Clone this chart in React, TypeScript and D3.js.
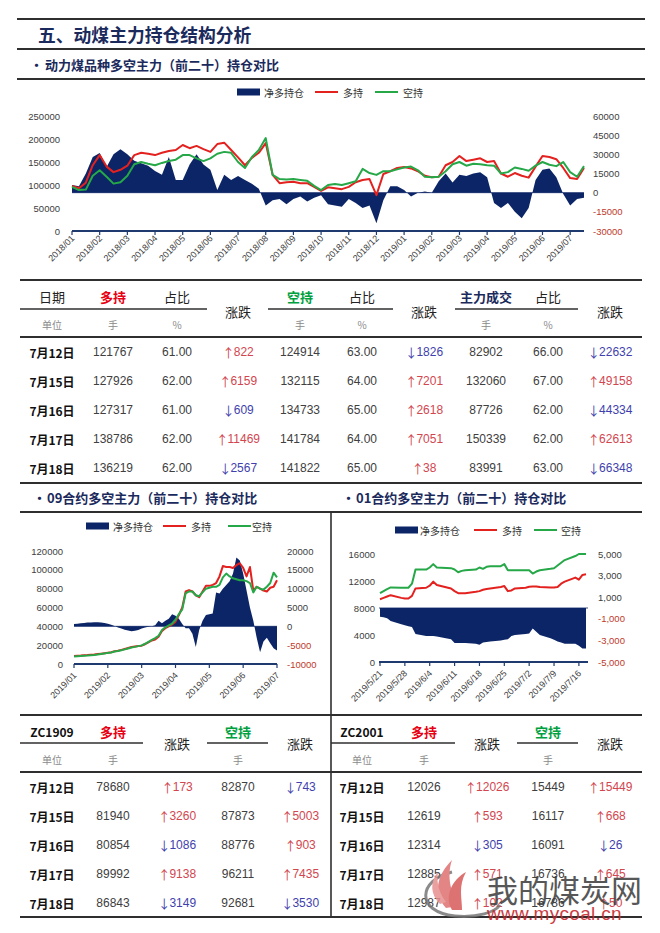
import React from 'react';
import * as d3 from 'd3';

const NAVY = '#0b2566';
const AXIS_NAVY = '#1f3a6e';
const RED_LINE = '#e3211f';
const GREEN_LINE = '#26a848';
const TXT = '#404040';
const NEG_TXT = '#c0392b';
const UP = '#d2464f';
const DOWN = '#3f3fae';
const HEAD_NAVY = '#1b2a5c';
const RULE = '#2f2f2f';
const SANS = '"Liberation Sans", "Noto Sans CJK SC", sans-serif';
const CJK = '"Noto Sans CJK SC", "Liberation Sans", sans-serif';

// ================= Top chart data =================
const topMonths = ['2018/01','2018/02','2018/03','2018/04','2018/05','2018/06','2018/07','2018/08','2018/09','2018/10','2018/11','2018/12','2019/01','2019/02','2019/03','2019/04','2019/05','2019/06','2019/07'];
const topLong = [98000,93000,105000,143000,165000,140000,128000,133000,142000,165000,
  170000,168000,165000,170000,174000,176000,187000,180000,185000,178000,
  172000,189000,192000,176000,160000,143000,159000,170000,191000,122000,
  104000,106000,107000,104000,104000,96000,87000,95000,93000,91000,
  96000,106000,111000,113000,78000,124000,130000,137000,139000,136000,
  130000,120000,117000,118000,143000,150000,163000,152000,155000,158000,
  150000,152000,125000,118000,126000,120000,116000,140000,163000,161000,
  156000,137000,115000,113000,137000];
const topShort = [96000,89000,90000,120000,132000,118000,103000,106000,120000,145000,
  150000,146000,143000,148000,152000,155000,165000,165000,158000,152000,
  158000,168000,172000,170000,150000,137000,161000,176000,202000,122000,
  113000,112000,113000,111000,109000,98000,89000,100000,102000,100000,
  104000,108000,135000,126000,122000,130000,130000,134000,138000,140000,
  132000,118000,117000,118000,130000,145000,150000,142000,146000,145000,
  143000,142000,125000,128000,138000,135000,131000,142000,150000,144000,
  141000,150000,128000,118000,141000];
const topNet = [6000,5000,15000,28000,31000,20000,30000,34000,30000,25000,
  23000,21000,17000,14000,28000,10000,10000,22000,30000,22000,
  18000,2000,14000,10000,13000,10000,7000,3000,-10000,-6000,
  -5000,-9000,-5000,-3000,-7000,-4000,-2000,-9000,-10000,-11000,
  -5000,-8000,-12000,-10000,-24000,-6000,5000,5000,2000,-3000,
  0,1000,0,9000,15000,8000,14000,13000,15000,16000,
  12000,-8000,-12000,-8000,-15000,-20000,-12000,10000,18000,19000,
  12000,-1000,-10000,-5000,-4000];
const topLeftTicks = [0,50000,100000,150000,200000,250000];
const topRightTicks = [-30000,-15000,0,15000,30000,45000,60000];

// ================= 09 contract chart data =================
const c09Months = ['2019/01','2019/02','2019/03','2019/04','2019/05','2019/06','2019/07'];
const c09Long = [8500,8800,9000,9300,9500,9800,10000,10500,11000,11500,
  12000,12500,13500,14000,15000,16000,17000,18000,18500,19000,
  19500,21000,23000,25000,26000,29000,35000,38000,40000,42000,
  45000,52000,60000,77000,78500,77000,73000,71000,77000,83000,
  83000,84000,86000,93000,104000,103000,103000,102000,105000,107000,
  102000,93000,103000,78000,82000,80000,78000,77000,81000,82000,
  89000];
const c09Short = [8000,8300,8600,8800,9000,9300,9600,10000,10600,11200,
  11800,12300,13200,13800,14600,15500,16500,17500,18200,19000,
  19800,21500,23500,25500,27500,30000,36000,39000,41000,43000,
  47000,53000,58000,75000,77000,77000,73000,72000,76000,80000,
  81000,82000,82000,84000,92000,96000,93000,91000,90000,89000,
  89000,88000,86000,76000,82000,80000,79000,82000,86000,97000,
  92000];
const c09Net = [600,700,800,900,1000,1000,1100,1100,1000,900,
  700,400,100,-300,-600,-900,-1100,-1300,-1200,-1000,
  -600,-300,-100,0,300,1500,800,1500,2000,3200,
  2800,2000,600,-500,-500,-2000,-5500,-1000,1500,3000,
  3200,3400,9000,8700,10000,11000,12000,14000,18300,17500,
  14000,9500,5000,1500,-3000,-6900,-4000,-3000,-4500,-5800,
  -6400];
const c09LeftTicks = [0,20000,40000,60000,80000,100000,120000];
const c09RightTicks = [-10000,-5000,0,5000,10000,15000,20000];

// ================= 01 contract chart data =================
const c01Dates = ['2019-05-21','2019-05-22','2019-05-23','2019-05-24','2019-05-27','2019-05-28','2019-05-29','2019-05-30','2019-05-31',
  '2019-06-03','2019-06-04','2019-06-05','2019-06-06','2019-06-10','2019-06-11','2019-06-12','2019-06-13','2019-06-14','2019-06-17','2019-06-18','2019-06-19','2019-06-20','2019-06-21','2019-06-24','2019-06-25','2019-06-26','2019-06-27','2019-06-28',
  '2019-07-01','2019-07-02','2019-07-03','2019-07-04','2019-07-05','2019-07-08','2019-07-09','2019-07-10','2019-07-11','2019-07-12','2019-07-15','2019-07-16','2019-07-17','2019-07-18'];
const c01Long = [9300,9500,9700,9900,9500,9400,9400,9800,10900,
  11000,11300,11900,11400,10900,10500,10200,10200,10200,10400,10500,10700,10800,10900,11100,11250,10500,10600,10900,
  11000,11150,11200,11200,11100,11050,11050,11100,11600,11900,12500,12200,12900,13000];
const c01Short = [10200,10500,10800,11050,11000,11000,11000,11600,13700,
  13700,14000,14500,14000,13900,13700,13300,13500,13600,13700,14000,13800,14100,14200,14200,14500,13600,13600,13600,
  13600,13600,13100,13400,13600,13800,13900,14300,14700,15100,15700,16000,16000,16000];
const c01Net = [-800,-850,-950,-1200,-1500,-1600,-1700,-1750,-2400,
  -2600,-2600,-2600,-2650,-2900,-3250,-3250,-3250,-3250,-3300,-3400,-3200,-3150,-3100,-3000,-2950,-2900,-2600,-2500,
  -2400,-2350,-1900,-2200,-2500,-2800,-2950,-3100,-3200,-3300,-3300,-3500,-3750,-3750];
const c01TickDates = ['2019-05-21','2019-05-28','2019-06-04','2019-06-11','2019-06-18','2019-06-25','2019-07-02','2019-07-09','2019-07-16'];
const c01LeftTicks = [0,4000,8000,12000,16000];
const c01RightTicks = [-5000,-3000,-1000,1000,3000,5000];

// ================= Tables =================
const tDates = ['7月12日','7月15日','7月16日','7月17日','7月18日'];
const t1Long = [121767,127926,127317,138786,136219];
const t1LongPct = ['61.00','62.00','61.00','62.00','62.00'];
const t1LongChg = [822,6159,-609,11469,-2567];
const t1Short = [124914,132115,134733,141784,141822];
const t1ShortPct = ['63.00','64.00','65.00','64.00','65.00'];
const t1ShortChg = [-1826,7201,2618,7051,38];
const t1Vol = [82902,132060,87726,150339,83991];
const t1VolPct = ['66.00','67.00','62.00','62.00','63.00'];
const t1VolChg = [-22632,49158,-44334,62613,-66348];

const t09Long = [78680,81940,80854,89992,86843];
const t09LongChg = [173,3260,-1086,9138,-3149];
const t09Short = [82870,87873,88776,96211,92681];
const t09ShortChg = [-743,5003,903,7435,-3530];

const t01Long = [12026,12619,12314,12885,12987];
const t01LongChg = [12026,593,-305,571,102];
const t01Short = [15449,16117,16091,16736,16786];
const t01ShortChg = [15449,668,-26,645,50];

// ================= Components =================
type Tick = { x: number; label: string };

function Legend({ y, boxX, netX, r1, longX, g1, shortX }: any) {
  const fs = 10;
  return (
    <g fontFamily={CJK} fontSize={fs} fill="#333">
      <rect x={boxX} y={y - 3.5} width={23} height={7} fill={NAVY} />
      <text x={netX} y={y} dominantBaseline="central">净多持仓</text>
      <line x1={r1} x2={r1 + 23} y1={y} y2={y} stroke={RED_LINE} strokeWidth={2} />
      <text x={longX} y={y} dominantBaseline="central">多持</text>
      <line x1={g1} x2={g1 + 23} y1={y} y2={y} stroke={GREEN_LINE} strokeWidth={2} />
      <text x={shortX} y={y} dominantBaseline="central">空持</text>
    </g>
  );
}

function Chart(props: any) {
  const { xs, long, short, net, yL, yR, leftTicks, rightTicks, leftX, rightX, rFmt, xTicks, axisY, x0, x1, labDy } = props;
  const area = d3.area<number>().x((_, i) => xs[i]).y0(yR(0)).y1((d) => yR(d))(net) as string;
  const lineGen = d3.line<number>().x((_, i) => xs[i]).y((d) => yL(d));
  return (
    <g>
      <path d={area} fill={NAVY} />
      <line x1={x0} x2={x1} y1={yR(0)} y2={yR(0)} stroke={NAVY} strokeWidth={0.8} />
      <path d={lineGen(long) as string} fill="none" stroke={RED_LINE} strokeWidth={2} strokeLinejoin="round" />
      <path d={lineGen(short) as string} fill="none" stroke={GREEN_LINE} strokeWidth={2} strokeLinejoin="round" />
      <line x1={x0} x2={x1} y1={axisY} y2={axisY} stroke={AXIS_NAVY} strokeWidth={2} />
      {(xTicks as Tick[]).map((t, i) => (
        <line key={'tk' + i} x1={t.x} x2={t.x} y1={axisY} y2={axisY + 4} stroke={AXIS_NAVY} strokeWidth={1.2} />
      ))}
      {(leftTicks as number[]).map((v) => (
        <text key={'l' + v} x={leftX} y={yL(v)} textAnchor="end" dominantBaseline="central" fontSize={9.5} fill={TXT} fontFamily={SANS}>{v}</text>
      ))}
      {(rightTicks as number[]).map((v) => (
        <text key={'r' + v} x={rightX} y={yR(v)} dominantBaseline="central" fontSize={9.5} fill={v < 0 ? NEG_TXT : TXT} fontFamily={SANS}>{rFmt(v)}</text>
      ))}
      {(xTicks as Tick[]).map((t, i) => (
        <text key={'xl' + i} transform={`translate(${t.x + 3},${axisY + labDy}) rotate(-45)`} textAnchor="end" fontSize={9} fill={TXT} fontFamily={SANS}>{t.label}</text>
      ))}
    </g>
  );
}

function Chg({ x, y, v }: { x: number; y: number; v: number }) {
  const up = v >= 0;
  return (
    <text x={x} y={y} textAnchor="middle" dominantBaseline="central" fontSize={12} fill={up ? UP : DOWN} fontFamily={SANS}>
      <tspan fontFamily={CJK} fontSize={12.5}>{up ? '↑' : '↓'}</tspan>
      <tspan dx={-1}>{Math.abs(v)}</tspan>
    </text>
  );
}

function Val({ x, y, t }: { x: number; y: number; t: string | number }) {
  return <text x={x} y={y} textAnchor="middle" dominantBaseline="central" fontSize={12} fill={TXT} fontFamily={SANS}>{t}</text>;
}

function DateCell({ x, y, t }: { x: number; y: number; t: string }) {
  return <text x={x} y={y} textAnchor="middle" dominantBaseline="central" fontSize={12} fontWeight="bold" fill="#111" fontFamily={CJK}>{t}</text>;
}

function Head({ x, y, t, color = '#222', bold = false, size = 13 }: any) {
  return <text x={x} y={y} textAnchor="middle" dominantBaseline="central" fontSize={size} fontWeight={bold ? 'bold' : 'normal'} fill={color} fontFamily={CJK}>{t}</text>;
}

function Sub({ x, y, t }: any) {
  return <text x={x} y={y} textAnchor="middle" dominantBaseline="central" fontSize={10} fill="#8a8a8a" fontFamily={CJK}>{t}</text>;
}

function Rule({ x1, x2, y, w = 1.8, c = RULE }: any) {
  return <line x1={x1} x2={x2} y1={y} y2={y} stroke={c} strokeWidth={w} />;
}

export default function App() {
  // ---- top chart scales
  const topX = d3.scaleLinear().domain([0, topLong.length - 1]).range([72, 584]);
  const topYL = d3.scaleLinear().domain([0, 250000]).range([231, 116]);
  const topYR = d3.scaleLinear().domain([-30000, 60000]).range([231, 116]);
  const topXs = topLong.map((_, i) => topX(i));
  const topTicks: Tick[] = topMonths.map((m, k) => ({ x: topX(k * 4), label: m }));

  // ---- 09 chart scales
  const x09 = d3.scaleLinear().domain([0, c09Long.length - 1]).range([74, 277]);
  const y09L = d3.scaleLinear().domain([0, 120000]).range([664, 551]);
  const y09R = d3.scaleLinear().domain([-10000, 20000]).range([664, 551]);
  const xs09 = c09Long.map((_, i) => x09(i));
  const ticks09: Tick[] = c09Months.map((m, k) => ({ x: x09(k * 10), label: m }));

  // ---- 01 chart scales
  const parse = d3.timeParse('%Y-%m-%d');
  const d01 = c01Dates.map((s) => parse(s) as Date);
  const x01 = d3.scaleTime().domain([d01[0], d01[d01.length - 1]]).range([380, 586]);
  const y01L = d3.scaleLinear().domain([0, 16000]).range([662, 554]);
  const y01R = d3.scaleLinear().domain([-5000, 5000]).range([662, 554]);
  const xs01 = d01.map((d) => x01(d));
  const fmt01 = d3.timeFormat('%Y/%-m/%-d');
  const ticks01: Tick[] = c01TickDates.map((s) => {
    const d = parse(s) as Date;
    return { x: x01(d), label: fmt01(d) };
  });

  const t1Cols = [52, 113, 177, 238, 300, 362, 424, 486, 548, 610];
  const rowsY1 = [352, 381, 410, 439, 468];
  const lc = [52, 113, 177, 238, 300];
  const rc = [362, 424, 487, 548, 610];
  const rowsY2 = [787, 816, 845, 874, 903];

  return (
    <svg width={660} height={933} style={{ position: 'absolute', left: 0, top: 0, background: '#fff' }}>
      <rect width={660} height={933} fill="#fff" />

      {/* Header */}
      <Rule x1={17} x2={645} y={19} w={2} />
      <text x={38} y={34} dominantBaseline="central" fontSize={17.8} fontWeight="bold" fill={HEAD_NAVY} fontFamily={CJK}>五、动煤主力持仓结构分析</text>
      <Rule x1={17} x2={645} y={49} w={2} />
      <text x={30} y={64} dominantBaseline="central" fontSize={13} fontWeight="bold" fill={HEAD_NAVY} fontFamily={CJK}>•</text>
      <text x={45} y={64} dominantBaseline="central" fontSize={13} fontWeight="bold" fill={HEAD_NAVY} fontFamily={CJK}>动力煤品种多空主力（前二十）持仓对比</text>
      <Rule x1={17} x2={645} y={79} w={2} />

      {/* Top chart */}
      <Legend y={92} boxX={237} netX={264} r1={315} longX={343} g1={375} shortX={403} />
      <Chart xs={topXs} long={topLong} short={topShort} net={topNet} yL={topYL} yR={topYR}
        leftTicks={topLeftTicks} rightTicks={topRightTicks} leftX={60} rightX={593}
        rFmt={(v: number) => String(v)} xTicks={topTicks} axisY={231} x0={72} x1={584} labDy={8} />

      {/* Table 1 */}
      <Rule x1={20} x2={642} y={280} w={2} />
      <Head x={t1Cols[0]} y={296} t="日期" />
      <Head x={t1Cols[1]} y={296} t="多持" color="#e60012" bold />
      <Head x={t1Cols[2]} y={296} t="占比" />
      <Head x={t1Cols[3]} y={311} t="涨跌" />
      <Head x={t1Cols[4]} y={296} t="空持" color="#00a040" bold />
      <Head x={t1Cols[5]} y={296} t="占比" />
      <Head x={t1Cols[6]} y={311} t="涨跌" />
      <Head x={t1Cols[7]} y={296} t="主力成交" color={HEAD_NAVY} bold />
      <Head x={t1Cols[8]} y={296} t="占比" />
      <Head x={t1Cols[9]} y={311} t="涨跌" />
      <Rule x1={20} x2={207} y={309} w={1.6} />
      <Rule x1={268} x2={393} y={309} w={1.6} />
      <Rule x1={455} x2={578} y={309} w={1.6} />
      <Sub x={t1Cols[0]} y={324} t="单位" />
      <Sub x={t1Cols[1]} y={324} t="手" />
      <Sub x={t1Cols[2]} y={324} t="%" />
      <Sub x={t1Cols[4]} y={324} t="手" />
      <Sub x={t1Cols[5]} y={324} t="%" />
      <Sub x={t1Cols[7]} y={324} t="手" />
      <Sub x={t1Cols[8]} y={324} t="%" />
      <Rule x1={20} x2={642} y={337} w={2} />
      {tDates.map((d, r) => (
        <g key={'t1' + r}>
          <DateCell x={t1Cols[0]} y={rowsY1[r]} t={d} />
          <Val x={t1Cols[1]} y={rowsY1[r]} t={t1Long[r]} />
          <Val x={t1Cols[2]} y={rowsY1[r]} t={t1LongPct[r]} />
          <Chg x={t1Cols[3]} y={rowsY1[r]} v={t1LongChg[r]} />
          <Val x={t1Cols[4]} y={rowsY1[r]} t={t1Short[r]} />
          <Val x={t1Cols[5]} y={rowsY1[r]} t={t1ShortPct[r]} />
          <Chg x={t1Cols[6]} y={rowsY1[r]} v={t1ShortChg[r]} />
          <Val x={t1Cols[7]} y={rowsY1[r]} t={t1Vol[r]} />
          <Val x={t1Cols[8]} y={rowsY1[r]} t={t1VolPct[r]} />
          <Chg x={t1Cols[9]} y={rowsY1[r]} v={t1VolChg[r]} />
        </g>
      ))}

      {/* Bottom section headers */}
      <Rule x1={20} x2={642} y={483} w={2} />
      <text x={33} y={497} dominantBaseline="central" fontSize={13} fontWeight="bold" fill={HEAD_NAVY} fontFamily={CJK}>•</text>
      <text x={47} y={497} dominantBaseline="central" fontSize={13} fontWeight="bold" fill={HEAD_NAVY} fontFamily={CJK}>09合约多空主力（前二十）持仓对比</text>
      <text x={342} y={497} dominantBaseline="central" fontSize={13} fontWeight="bold" fill={HEAD_NAVY} fontFamily={CJK}>•</text>
      <text x={356} y={497} dominantBaseline="central" fontSize={13} fontWeight="bold" fill={HEAD_NAVY} fontFamily={CJK}>01合约多空主力（前二十）持仓对比</text>
      <Rule x1={20} x2={642} y={512} w={2} />
      <line x1={331} x2={331} y1={512} y2={917} stroke={RULE} strokeWidth={1.6} />

      {/* 09 chart */}
      <Legend y={526} boxX={86} netX={113} r1={163} longX={191} g1={228} shortX={252} />
      <Chart xs={xs09} long={c09Long} short={c09Short} net={c09Net} yL={y09L} yR={y09R}
        leftTicks={c09LeftTicks} rightTicks={c09RightTicks} leftX={63} rightX={287}
        rFmt={(v: number) => String(v)} xTicks={ticks09} axisY={664} x0={74} x1={277} labDy={12} />

      {/* 01 chart */}
      <Legend y={530} boxX={395} netX={420} r1={474} longX={502} g1={534} shortX={561} />
      <Chart xs={xs01} long={c01Long} short={c01Short} net={c01Net} yL={y01L} yR={y01R}
        leftTicks={c01LeftTicks} rightTicks={c01RightTicks} leftX={375} rightX={598}
        rFmt={(v: number) => v.toLocaleString('en-US')} xTicks={ticks01} axisY={662} x0={379} x1={588} labDy={12} />

      {/* Bottom tables */}
      <Rule x1={20} x2={642} y={715} w={2} />
      <Head x={lc[0]} y={731} t="ZC1909" bold size={12} color="#111" />
      <Head x={lc[1]} y={731} t="多持" color="#e60012" bold />
      <Head x={lc[2]} y={743} t="涨跌" />
      <Head x={lc[3]} y={731} t="空持" color="#00a040" bold />
      <Head x={lc[4]} y={743} t="涨跌" />
      <Head x={rc[0]} y={731} t="ZC2001" bold size={12} color="#111" />
      <Head x={rc[1]} y={731} t="多持" color="#e60012" bold />
      <Head x={rc[2]} y={743} t="涨跌" />
      <Head x={rc[3]} y={731} t="空持" color="#00a040" bold />
      <Head x={rc[4]} y={743} t="涨跌" />
      <Rule x1={20} x2={143} y={743} w={1.6} />
      <Rule x1={207} x2={268} y={743} w={1.6} />
      <Rule x1={331} x2={455} y={743} w={1.6} />
      <Rule x1={517} x2={578} y={743} w={1.6} />
      <Sub x={lc[0]} y={759} t="单位" />
      <Sub x={lc[1]} y={759} t="手" />
      <Sub x={lc[3]} y={759} t="手" />
      <Sub x={rc[0]} y={759} t="单位" />
      <Sub x={rc[1]} y={759} t="手" />
      <Sub x={rc[3]} y={759} t="手" />
      <Rule x1={20} x2={642} y={772} w={2} />
      {tDates.map((d, r) => (
        <g key={'t2' + r}>
          <DateCell x={lc[0]} y={rowsY2[r]} t={d} />
          <Val x={lc[1]} y={rowsY2[r]} t={t09Long[r]} />
          <Chg x={lc[2]} y={rowsY2[r]} v={t09LongChg[r]} />
          <Val x={lc[3]} y={rowsY2[r]} t={t09Short[r]} />
          <Chg x={lc[4]} y={rowsY2[r]} v={t09ShortChg[r]} />
          <DateCell x={rc[0]} y={rowsY2[r]} t={d} />
          <Val x={rc[1]} y={rowsY2[r]} t={t01Long[r]} />
          <Chg x={rc[2]} y={rowsY2[r]} v={t01LongChg[r]} />
          <Val x={rc[3]} y={rowsY2[r]} t={t01Short[r]} />
          <Chg x={rc[4]} y={rowsY2[r]} v={t01ShortChg[r]} />
        </g>
      ))}
      <Rule x1={20} x2={642} y={917} w={2} />

      {/* Watermark */}
      <g opacity={0.85}>
        <path d="M 452 872 C 418 880, 415 912, 455 916 C 478 918, 495 912, 500 905" fill="none" stroke="#777" strokeWidth={3} />
        <path d="M 446 908 C 432 892, 438 874, 452 860 C 446 878, 452 893, 458 906 Z" fill="#e07070" />
        <path d="M 452 910 C 444 896, 452 880, 466 872 C 458 886, 462 898, 462 910 Z" fill="#d85a5a" />
        <path d="M 440 904 C 430 894, 430 882, 438 872 C 436 884, 440 894, 446 902 Z" fill="#e89090" />
      </g>
      <text x={487} y={888} dominantBaseline="central" fontSize={31} fill="#3a3a3a" opacity={0.85} fontFamily={CJK}>我的煤炭网</text>
      <text x={487} y={913} dominantBaseline="central" fontSize={19} fill="#c8282d" opacity={0.9} fontFamily={SANS} letterSpacing={0.3}>www.mycoal.cn</text>
    </svg>
  );
}
